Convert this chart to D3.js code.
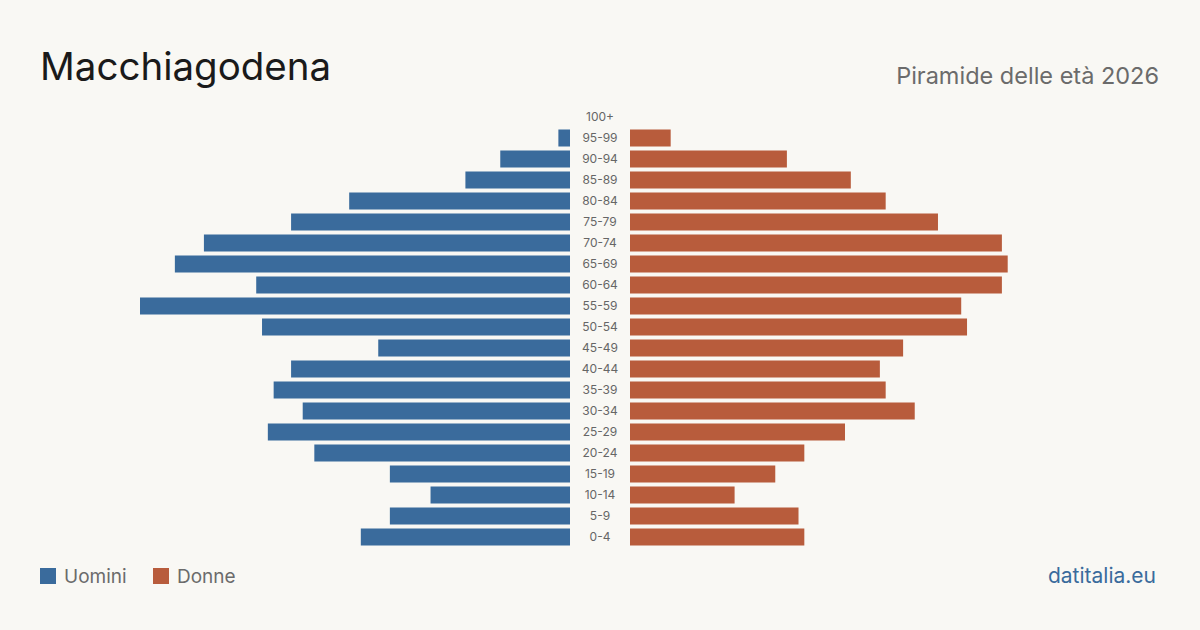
<!DOCTYPE html>
<html>
<head>
<meta charset="utf-8">
<script src="https://cdn.jsdelivr.net/npm/d3@7"></script>
<style>
  html, body { margin: 0; padding: 0; background: #f9f8f4; }
  svg { display: block; font-family: Inter, "Liberation Sans", sans-serif; }
</style>
</head>
<body>
<div id="chart"></div>
<script>
"use strict";

// age groups, top to bottom
const ageGroups = ["100+", "95-99", "90-94", "85-89", "80-84", "75-79", "70-74", "65-69",
  "60-64", "55-59", "50-54", "45-49", "40-44", "35-39", "30-34", "25-29",
  "20-24", "15-19", "10-14", "5-9", "0-4"];
const men   = [0, 2, 12, 18, 38, 48, 63, 68, 54, 74, 53, 33, 48, 51, 46, 52, 44, 31, 24, 31, 36];
const women = [0, 7, 27, 38, 44, 53, 64, 65, 64, 57, 58, 47, 43, 44, 49, 37, 30, 25, 18, 29, 30];
const seriesNames = ["Uomini", "Donne"];

const W = 1200, H = 630;
const cx = 600, gap = 30, half = 430;
const blue = "#3a6b9c", red = "#b85c3c";

const svg = d3.select("#chart").append("svg")
  .attr("width", W).attr("height", H);

svg.append("rect").attr("width", W).attr("height", H).attr("fill", "#f9f8f4");

// rows
const y = d3.scaleBand().domain(ageGroups).range([106.5, 547.5]).paddingInner(0.19).paddingOuter(0.095);
const maxVal = d3.max(men.concat(women));
const xm = d3.scaleLinear().domain([0, maxVal]).range([cx - gap, cx - gap - half]);
const xw = d3.scaleLinear().domain([0, maxVal]).range([cx + gap, cx + gap + half]);

const rows = ageGroups.map((g, i) => ({ g: g, m: men[i], f: women[i] }));

svg.append("g").selectAll("rect")
  .data(rows)
  .join("rect")
    .attr("x", d => xm(d.m))
    .attr("y", d => y(d.g))
    .attr("width", d => xm(0) - xm(d.m))
    .attr("height", y.bandwidth())
    .attr("fill", blue);

svg.append("g").selectAll("rect")
  .data(rows)
  .join("rect")
    .attr("x", xw(0))
    .attr("y", d => y(d.g))
    .attr("width", d => xw(d.f) - xw(0))
    .attr("height", y.bandwidth())
    .attr("fill", red);

// age labels in the middle
svg.append("g").selectAll("text")
  .data(ageGroups)
  .join("text")
    .attr("x", cx)
    .attr("y", d => y(d) + y.bandwidth() / 2)
    .attr("dy", "0.35em")
    .attr("text-anchor", "middle")
    .attr("font-size", 12)
    .attr("fill", "#666")
    .text(d => d);

// title and subtitle
svg.append("text")
  .attr("x", 40).attr("y", 80)
  .attr("font-size", 38.5)
  .attr("fill", "#1a1a1a")
  .text("Macchiagodena");

svg.append("text")
  .attr("x", 1159).attr("y", 84)
  .attr("text-anchor", "end")
  .attr("font-size", 23.5)
  .attr("fill", "#6b6b6b")
  .text("Piramide delle età 2026");

// legend
const legend = svg.append("g").attr("transform", "translate(40,568)");
const lx = [0, 113];
seriesNames.forEach((name, i) => {
  legend.append("rect")
    .attr("x", lx[i]).attr("y", 0)
    .attr("width", 16).attr("height", 16)
    .attr("fill", i === 0 ? blue : red);
  legend.append("text")
    .attr("x", lx[i] + 24).attr("y", 8)
    .attr("dy", "0.35em")
    .attr("font-size", 19)
    .attr("fill", "#6b6b6b")
    .text(name);
});

svg.append("text")
  .attr("x", 1156).attr("y", 583)
  .attr("text-anchor", "end")
  .attr("font-size", 21)
  .attr("fill", "#3a6b9c")
  .text("datitalia.eu");
</script>
</body>
</html>
